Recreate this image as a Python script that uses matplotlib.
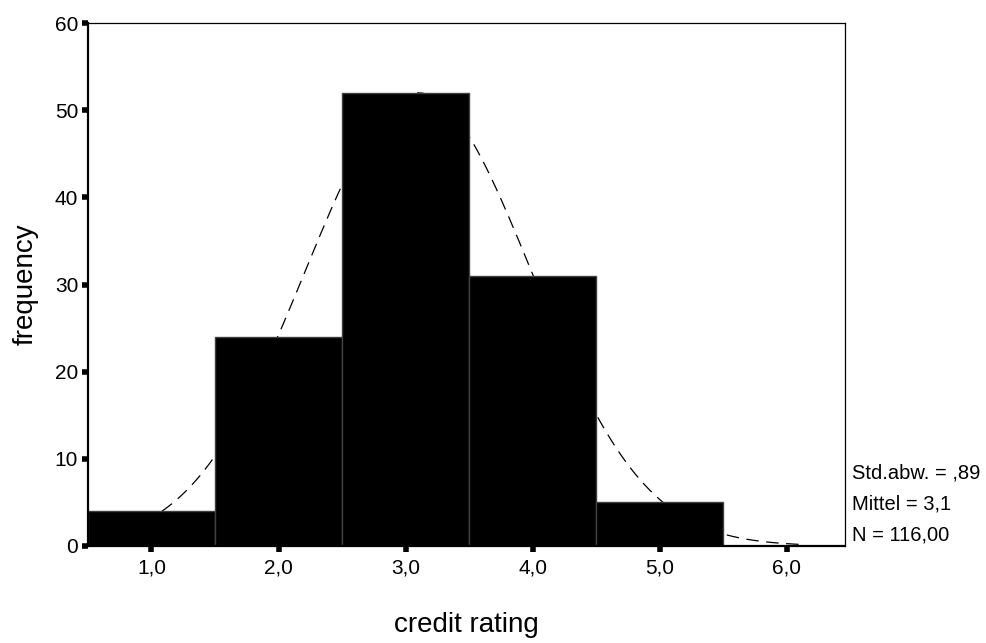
import numpy as np
import matplotlib
matplotlib.use("Agg")
import matplotlib.pyplot as plt

plt.rcParams["font.family"] = ["Liberation Sans", "DejaVu Sans"]

# histogram data
ratings = [1.0, 2.0, 3.0, 4.0, 5.0]
counts = [4, 24, 52, 31, 5]

# summary stats shown on the chart
std_dev = 0.89
mean = 3.1
n_total = 116
bin_width = 1.0
curve_start, curve_end = 0.5, 6.1

stat_labels = ["Std.abw. = ,89", "Mittel = 3,1", "N = 116,00"]
x_ticks = [1.0, 2.0, 3.0, 4.0, 5.0, 6.0]
x_tick_labels = ["1,0", "2,0", "3,0", "4,0", "5,0", "6,0"]
y_ticks = [0, 10, 20, 30, 40, 50, 60]

fig = plt.figure(figsize=(9.86, 6.43), dpi=100)
ax = fig.add_axes([0.0892, 0.151, 0.768, 0.813])

# normal curve behind the bars
xs = np.linspace(curve_start, curve_end, 300)
ys = n_total * bin_width / (std_dev * np.sqrt(2 * np.pi)) * np.exp(-0.5 * ((xs - mean) / std_dev) ** 2)
ax.plot(xs, ys, color="black", lw=0.9, linestyle=(0, (10, 6)), zorder=1)

ax.bar(ratings, counts, width=1.0, color="black", edgecolor="#404040", linewidth=1.0, zorder=2)

ax.set_xlim(0.5, 6.46)
ax.set_ylim(0, 60)
ax.set_xticks(x_ticks)
ax.set_xticklabels(x_tick_labels)
ax.set_yticks(y_ticks)

ax.tick_params(axis="both", direction="out", length=4, width=4, labelsize=15, color="black")
ax.tick_params(axis="y", pad=3)
ax.tick_params(axis="x", pad=5)

for side in ["left", "bottom"]:
    ax.spines[side].set_linewidth(1.6)
for side in ["top", "right"]:
    ax.spines[side].set_linewidth(0.9)

ax.set_xlabel("credit rating", fontsize=20, labelpad=25)
ax.set_ylabel("frequency", fontsize=20, labelpad=12)

# stats box text at the right
for i, txt in enumerate(stat_labels):
    ax.text(1.009, 0.14 - i * 0.06, txt, transform=ax.transAxes, fontsize=14.5, va="center", ha="left")

fig.savefig("out.png", dpi=100)
